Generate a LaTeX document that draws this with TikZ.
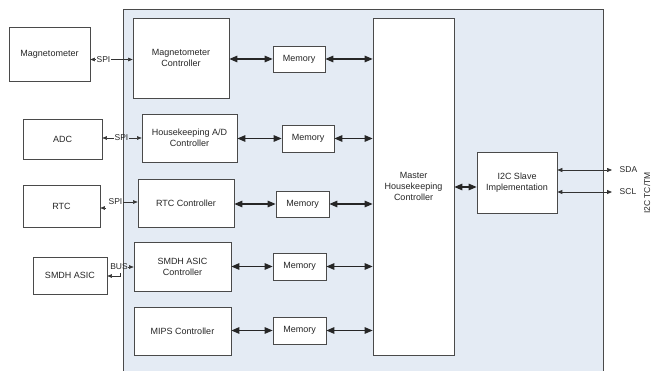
\documentclass[tikz,border=0pt]{standalone}
\usepackage{fontspec}
\setmainfont{Liberation Sans}
\usetikzlibrary{arrows.meta,calc}
\definecolor{panelfill}{HTML}{E4EBF4}
\definecolor{edge}{HTML}{4A4A4A}
\definecolor{txt}{HTML}{262626}
\begin{document}
\begin{tikzpicture}[x=1pt,y=-1pt,
  box/.style={draw=edge,fill=white,line width=0.7pt,align=center,inner sep=1pt,
    font=\fontsize{9}{11}\selectfont,text=txt},
  lbl/.style={inner sep=0.5pt,font=\fontsize{8.5}{9.5}\selectfont,text=txt},
  bigarr/.style={line width=1.2pt,draw=black!85,{Triangle[length=8pt,width=6.5pt]}-{Triangle[length=8pt,width=6.5pt]}},
  smallarr/.style={line width=0.5pt,draw=black!80,-{Triangle[length=4.5pt,width=3.5pt]}},
  smallbi/.style={line width=0.6pt,draw=black!80,{Triangle[length=5pt,width=4pt]}-{Triangle[length=5pt,width=4pt]}}
]
\useasboundingbox (0,0) rectangle (652,371);
% panel
\path[fill=panelfill,draw=edge,line width=0.7pt] (123,9) -- (603,9) -- (603,372) -- (123,372) -- cycle;

% outside boxes
\node[box,minimum width=81pt,minimum height=54pt] (mag) at (49.5,54) {Magnetometer};
\node[box,minimum width=79pt,minimum height=40pt] (adc) at (62.5,139) {ADC};
\node[box,minimum width=77pt,minimum height=42pt] (rtc) at (61.5,206) {RTC};
\node[box,minimum width=74pt,minimum height=37pt] (smdh) at (70,275.5) {SMDH ASIC};

% controllers
\node[box,minimum width=96pt,minimum height=80pt] (magc) at (181,58) {Magnetometer\\Controller};
\node[box,minimum width=95pt,minimum height=48pt] (hkc) at (189.5,138) {Housekeeping A/D\\Controller};
\node[box,minimum width=96pt,minimum height=48pt] (rtcc) at (186,203) {RTC Controller};
\node[box,minimum width=97pt,minimum height=49pt] (smdhc) at (182.5,266.5) {SMDH ASIC\\Controller};
\node[box,minimum width=97pt,minimum height=48pt] (mipsc) at (182.5,331) {MIPS Controller};

% memories
\node[box,minimum width=52pt,minimum height=26pt] (mem1) at (299,59) {Memory};
\node[box,minimum width=52pt,minimum height=27pt] (mem2) at (308,138.5) {Memory};
\node[box,minimum width=53pt,minimum height=26pt] (mem3) at (302.5,204) {Memory};
\node[box,minimum width=53pt,minimum height=27pt] (mem4) at (299.5,266.5) {Memory};
\node[box,minimum width=53pt,minimum height=27pt] (mem5) at (299.5,330.5) {Memory};

% master and slave
\node[box,minimum width=81pt,minimum height=337pt] (master) at (413.5,186.5) {Master\\Housekeeping\\Controller};
\node[box,minimum width=80pt,minimum height=61pt] (slave) at (517,182.5) {I2C Slave\\Implementation};

% controller - memory
\draw[bigarr] (magc.east |- mem1.west) -- (mem1.west);
\draw[bigarr] (hkc.east |- mem2.west) -- (mem2.west);
\draw[bigarr] (rtcc.east |- mem3.west) -- (mem3.west);
\draw[bigarr] (smdhc.east |- mem4.west) -- (mem4.west);
\draw[bigarr] (mipsc.east |- mem5.west) -- (mem5.west);
% memory - master
\draw[bigarr] (mem1.east) -- (master.west |- mem1.east);
\draw[bigarr] (mem2.east) -- (master.west |- mem2.east);
\draw[bigarr] (mem3.east) -- (master.west |- mem3.east);
\draw[bigarr] (mem4.east) -- (master.west |- mem4.east);
\draw[bigarr] (mem5.east) -- (master.west |- mem5.east);
% master - slave
\coordinate (ms) at (0,187);
\draw[bigarr] (master.east |- ms) -- (slave.west |- ms);

% SPI / BUS links
\node[lbl] (spi1) at (103.5,59.5) {SPI};
\draw[smallarr] (spi1.west) -- (mag.east |- spi1.west);
\draw[smallarr] (spi1.east) -- (magc.west |- spi1.east);
\node[lbl] (spi2) at (121.5,138) {SPI};
\draw[smallarr] (spi2.west) -- (adc.east |- spi2.west);
\draw[smallarr] (spi2.east) -- (hkc.west |- spi2.east);
\node[lbl] (spi3) at (115.5,202) {SPI};
\coordinate (rtcback) at (106,208);
\draw[smallarr] (rtcback) -- (rtc.east |- rtcback);
\draw[smallarr] (spi3.east) -- (rtcc.west |- spi3.east);
\node[lbl] (bus) at (119,267) {BUS};
\draw[smallarr] (bus.east) -- (smdhc.west |- bus.east);
\coordinate (busback) at (120,273);
\draw[smallarr] (busback) -- ++(0,3) -- (smdh.east |- 0,276);

% I2C lines
\coordinate (sdaend) at (612,170);
\coordinate (sclend) at (612,192);
\draw[smallbi] (slave.east |- sdaend) -- (sdaend);
\draw[smallbi,line width=0.8pt] (slave.east |- sclend) -- (sclend);
\node[lbl,anchor=west] (sda) at (619,170) {SDA};
\node[lbl,anchor=west] (scl) at (619,192) {SCL};
\node[lbl,rotate=90] (i2c) at (647,193) {I2C TC/TM};
\end{tikzpicture}
\end{document}
